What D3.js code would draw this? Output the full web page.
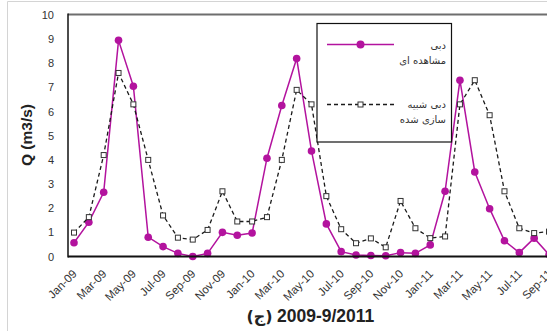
<!DOCTYPE html>
<html>
<head>
<meta charset="utf-8">
<script src="https://cdn.jsdelivr.net/npm/d3@7"></script>
<style>
  html, body { margin: 0; padding: 0; background: #fff; }
  svg { display: block; }
</style>
</head>
<body>
<svg id="chart" width="547" height="331"></svg>
<script>
// Monthly discharge, Jan 2009 – Sep 2011
const months = [
  "Jan-09","Feb-09","Mar-09","Apr-09","May-09","Jun-09","Jul-09","Aug-09","Sep-09","Oct-09","Nov-09","Dec-09",
  "Jan-10","Feb-10","Mar-10","Apr-10","May-10","Jun-10","Jul-10","Aug-10","Sep-10","Oct-10","Nov-10","Dec-10",
  "Jan-11","Feb-11","Mar-11","Apr-11","May-11","Jun-11","Jul-11","Aug-11","Sep-11"
];
const observed = [
  0.57, 1.42, 2.66, 8.95, 7.05, 0.80, 0.41, 0.13, 0.00, 0.13, 1.00, 0.88,
  0.97, 4.07, 6.25, 8.20, 4.37, 1.35, 0.20, 0.06, 0.04, 0.03, 0.16, 0.13,
  0.48, 2.70, 7.30, 3.50, 1.98, 0.65, 0.16, 0.76, 0.08
];
const simulated = [
  0.99, 1.63, 4.20, 7.60, 6.30, 4.00, 1.70, 0.78, 0.70, 1.10, 2.70, 1.45,
  1.45, 1.63, 4.00, 6.90, 6.30, 2.50, 1.13, 0.55, 0.75, 0.38, 2.30, 1.17,
  0.76, 0.83, 6.30, 7.30, 5.85, 2.70, 1.17, 0.97, 1.03
];
const tickLabels = months.filter((m, i) => i % 2 === 0);
const yTicks = [0,1,2,3,4,5,6,7,8,9,10];
const legendObserved = ["دبی", "مشاهده ای"];
const legendSimulated = ["دبی شبیه", "سازی شده"];
const axisTitle = "Q (m3/s)";
const captionLetter = "(ج)";
const captionRange = "2009-9/2011";

const magenta = "#b3139e";
const svg = d3.select("#chart");

// chart frame
svg.append("line").attr("x1", 7.5).attr("x2", 7.5).attr("y1", 1.5).attr("y2", 331)
  .attr("stroke", "#d4d4d4").attr("stroke-width", 1);
svg.append("line").attr("x1", 7.5).attr("x2", 547).attr("y1", 1.5).attr("y2", 1.5)
  .attr("stroke", "#d4d4d4").attr("stroke-width", 1);

const x = d3.scalePoint().domain(months).range([74, 549]);
const y = d3.scaleLinear().domain([0, 10]).range([256.5, 15]);

// plot area border (top)
svg.append("line").attr("x1", 68).attr("x2", 547).attr("y1", 14.5).attr("y2", 14.5)
  .attr("stroke", "#6e6e6e").attr("stroke-width", 2);

// y axis labels
const yAxis = svg.append("g").attr("transform", "translate(68,0)")
  .call(d3.axisLeft(y).tickValues(yTicks).tickFormat(d3.format("d")).tickSize(0).tickPadding(14));
yAxis.select(".domain").remove();
yAxis.selectAll("text").attr("font-family", "Liberation Sans, Arial, sans-serif")
  .attr("font-size", 11).attr("fill", "#333");

// x axis labels
const xAxis = svg.append("g").attr("transform", "translate(0,256.5)")
  .call(d3.axisBottom(x).tickValues(tickLabels).tickSize(0));
xAxis.select(".domain").remove();
xAxis.selectAll("text")
  .attr("font-family", "Liberation Sans, Arial, sans-serif")
  .attr("font-size", 11.5).attr("fill", "#333")
  .attr("text-anchor", "end")
  .attr("dy", null).attr("y", 0)
  .attr("transform", "translate(3,18) rotate(-45)");

// axis lines
svg.append("line").attr("x1", 68).attr("x2", 68).attr("y1", 13.5).attr("y2", 257.5)
  .attr("stroke", "#111").attr("stroke-width", 1.5);

// series
const line = d3.line().x((d, i) => x(months[i])).y(d => y(d));

svg.append("path").datum(observed).attr("d", line)
  .attr("fill", "none").attr("stroke", magenta).attr("stroke-width", 1.5);
svg.append("g").selectAll("circle").data(observed).join("circle")
  .attr("cx", (d, i) => x(months[i])).attr("cy", d => y(d)).attr("r", 3.8)
  .attr("fill", magenta);

svg.append("path").datum(simulated).attr("d", line)
  .attr("fill", "none").attr("stroke", "#1a1a1a").attr("stroke-width", 1.3)
  .attr("stroke-dasharray", "4,3");
svg.append("g").selectAll("rect").data(simulated).join("rect")
  .attr("x", (d, i) => x(months[i]) - 2.5).attr("y", d => y(d) - 2.5)
  .attr("width", 5).attr("height", 5)
  .attr("fill", "#fff").attr("stroke", "#333").attr("stroke-width", 1);

svg.append("line").attr("x1", 68).attr("x2", 547).attr("y1", 256.5).attr("y2", 256.5)
  .attr("stroke", "#111").attr("stroke-width", 2.2);

// legend
const lg = svg.append("g");
lg.append("rect").attr("x", 317).attr("y", 23.5).attr("width", 134.5).attr("height", 118.5)
  .attr("fill", "#fff").attr("stroke", "#111").attr("stroke-width", 1.2);
lg.append("line").attr("x1", 327).attr("x2", 394).attr("y1", 44.5).attr("y2", 44.5)
  .attr("stroke", magenta).attr("stroke-width", 1.5);
lg.append("circle").attr("cx", 360.5).attr("cy", 44.5).attr("r", 4).attr("fill", magenta);
lg.append("line").attr("x1", 327).attr("x2", 394).attr("y1", 104.5).attr("y2", 104.5)
  .attr("stroke", "#1a1a1a").attr("stroke-width", 1.3).attr("stroke-dasharray", "4,3");
lg.append("rect").attr("x", 358).attr("y", 102).attr("width", 5).attr("height", 5)
  .attr("fill", "#fff").attr("stroke", "#333");

const legendText = (lines, y0) => {
  lines.forEach((t, i) => {
    lg.append("text").attr("x", 446).attr("y", y0 + i * 14.5)
      .attr("text-anchor", "end")
      .attr("font-family", "DejaVu Sans, sans-serif").attr("font-size", 10)
      .attr("fill", "#333").text(t);
  });
};
legendText(legendObserved, 49);
legendText(legendSimulated, 108);

// axis title
svg.append("text").attr("transform", "translate(31.5,135) rotate(-90)")
  .attr("text-anchor", "middle")
  .attr("font-family", "Liberation Sans, Arial, sans-serif").attr("font-weight", "bold")
  .attr("font-size", 15.5).attr("fill", "#222").text(axisTitle);

// caption
svg.append("text").attr("x", 246.5).attr("y", 322)
  .attr("font-family", "DejaVu Sans, sans-serif").attr("font-weight", "bold")
  .attr("font-size", 16).attr("fill", "#222").text(captionLetter);
svg.append("text").attr("x", 277).attr("y", 322)
  .attr("font-family", "Liberation Sans, Arial, sans-serif").attr("font-weight", "bold")
  .attr("font-size", 17.5).attr("fill", "#222").text(captionRange);
</script>
</body>
</html>
